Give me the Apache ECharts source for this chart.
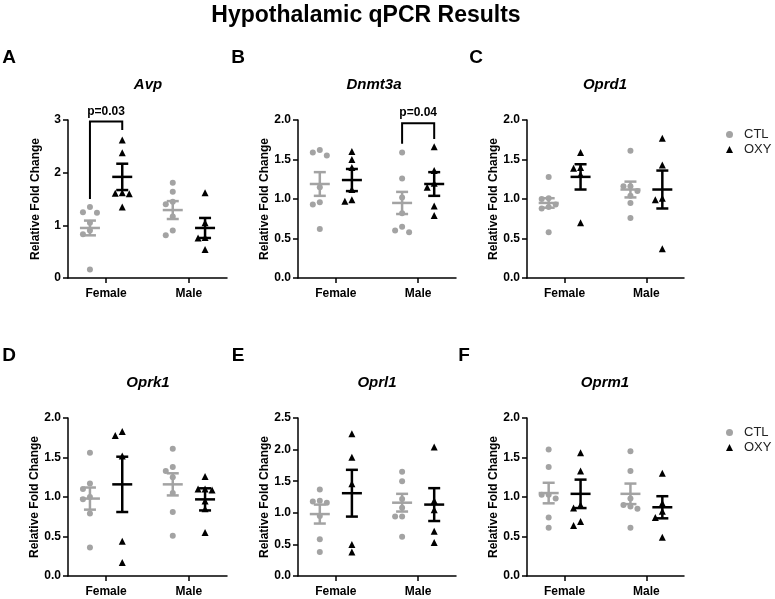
<!DOCTYPE html>
<html>
<head>
<meta charset="utf-8">
<title>Hypothalamic qPCR Results</title>
<script src="https://cdn.jsdelivr.net/npm/echarts@6/dist/echarts.min.js"></script>
<style>
  html, body { margin: 0; padding: 0; background: #fff; }
  #chart { width: 775px; height: 599px; }
</style>
</head>
<body>
<div id="chart"></div>
<script>
// one panel per gene (A-F)
const genes = ['Avp', 'Dnmt3a', 'Oprd1', 'Oprk1', 'Oprl1', 'Oprm1'];
const letters = ['A', 'B', 'C', 'D', 'E', 'F'];
const sexes = ['Female', 'Male'];
const yMax = [3, 2, 2, 2, 2.5, 2];
const yStep = [1, 0.5, 0.5, 0.5, 0.5, 0.5];

// individual animals (relative fold change), one list per gene
const ctlFemale = [
  [1.35, 1.25, 1.24, 1.05, 0.90, 0.83, 0.16],
  [1.62, 1.59, 1.55, 1.15, 0.96, 0.93, 0.62],
  [1.28, 1.01, 1.00, 0.93, 0.90, 0.88, 0.58],
  [1.56, 1.17, 1.10, 1.00, 0.97, 0.79, 0.36],
  [1.37, 1.19, 1.18, 1.16, 0.95, 0.58, 0.38],
  [1.60, 1.38, 1.03, 1.03, 0.98, 0.74, 0.61]
];
const oxyFemale = [
  [2.62, 2.38, 1.62, 1.61, 1.60, 1.35],
  [1.60, 1.50, 1.40, 1.12, 0.99, 0.97],
  [1.59, 1.40, 1.39, 1.31, 0.70],
  [1.83, 1.78, 1.52, 0.44, 0.17],
  [2.25, 1.88, 1.46, 0.50, 0.38],
  [1.56, 1.33, 0.90, 0.86, 0.69, 0.64]
];
const ctlMale = [
  [1.81, 1.64, 1.45, 1.40, 1.17, 0.90, 0.81],
  [1.59, 1.26, 1.02, 0.82, 0.65, 0.60, 0.58],
  [1.61, 1.16, 1.16, 1.10, 1.04, 0.95, 0.76],
  [1.61, 1.38, 1.33, 1.25, 1.05, 0.81, 0.51],
  [1.65, 1.50, 1.22, 1.08, 0.94, 0.94, 0.62],
  [1.58, 1.33, 0.98, 0.90, 0.88, 0.85, 0.61]
];
const oxyMale = [
  [1.62, 1.05, 0.77, 0.76, 0.54],
  [1.66, 1.36, 1.20, 1.15, 0.91, 0.79],
  [1.77, 1.43, 1.01, 0.99, 0.37],
  [1.26, 1.10, 1.10, 1.09, 0.95, 0.85, 0.55],
  [2.04, 1.19, 1.05, 0.71, 0.53],
  [1.30, 0.92, 0.82, 0.74, 0.49]
];

// mean and SEM per gene: [CTL Female, OXY Female, CTL Male, OXY Male]
const groupMean = [
  [0.95, 1.92, 1.29, 0.95],
  [1.19, 1.24, 0.95, 1.19],
  [0.95, 1.28, 1.12, 1.12],
  [0.98, 1.16, 1.16, 0.97],
  [0.98, 1.31, 1.16, 1.13],
  [1.05, 1.04, 1.04, 0.87]
];
const groupSem = [
  [0.14, 0.25, 0.17, 0.19],
  [0.15, 0.14, 0.14, 0.15],
  [0.06, 0.16, 0.10, 0.24],
  [0.14, 0.35, 0.14, 0.14],
  [0.15, 0.37, 0.14, 0.26],
  [0.13, 0.18, 0.13, 0.14]
];

// significance brackets (gene index, sex index, label, heights in fold change)
const brackets = [
  { gene: 0, sex: 0, text: 'p=0.03', top: 2.97, ctlEnd: 1.50, oxyEnd: 2.81 },
  { gene: 1, sex: 1, text: 'p=0.04', top: 1.96, ctlEnd: 1.70, oxyEnd: 1.76 }
];

const FONT = '"Liberation Sans", Arial, sans-serif';
const GREY = '#a3a3a3';
const BLACK = '#000';

// panel layout (pixels)
const panels = [
  { left: 68, top: 120, width: 159, letterX: 9, titleX: 148 },
  { left: 298, top: 120, width: 158, letterX: 238, titleX: 374 },
  { left: 527, top: 120, width: 157, letterX: 476, titleX: 605 },
  { left: 68, top: 418, width: 159, letterX: 9, titleX: 148 },
  { left: 298, top: 418, width: 158, letterX: 238, titleX: 377 },
  { left: 527, top: 418, width: 157, letterX: 464, titleX: 605 }
];
const PLOT_H = 158;
const X_MIN = 0.08, X_MAX = 3.92;
const SEX_X = [1, 3];
const GROUP_OFF = 0.39;

// simple beeswarm: spread points sideways when they would overlap
function swarm(values, center, yPxPerUnit, xPxPerUnit) {
  const step = 7 / xPxPerUnit;
  const placed = [];
  values.slice().sort((a, b) => b - a).forEach(v => {
    for (const k of [0, -1, 1, -2, 2, -3, 3]) {
      const ox = k * step;
      const free = placed.every(p => Math.hypot((p[0] - ox) * xPxPerUnit, (p[1] - v) * yPxPerUnit) >= 6.5);
      if (free) { placed.push([ox, v]); break; }
    }
  });
  return placed.map(p => [center + p[0], p[1]]);
}

function errorBar(color) {
  return function (params, api) {
    const x = api.value(0), m = api.value(1), s = api.value(2);
    const c = api.coord([x, m]);
    const hi = api.coord([x, m + s]);
    const lo = api.coord([x, m - s]);
    const st = { stroke: color, lineWidth: 2.5 };
    const seg = (x1, y1, x2, y2) => ({ type: 'line', shape: { x1, y1, x2, y2 }, style: st });
    return {
      type: 'group',
      children: [
        seg(c[0], hi[1], c[0], lo[1]),
        seg(c[0] - 10, c[1], c[0] + 10, c[1]),
        seg(c[0] - 6, hi[1], c[0] + 6, hi[1]),
        seg(c[0] - 6, lo[1], c[0] + 6, lo[1])
      ]
    };
  };
}

const grid = [], xAxis = [], yAxis = [], series = [], graphic = [];

graphic.push({
  type: 'text', x: 366, y: 16,
  style: { text: 'Hypothalamic qPCR Results', font: 'bold 23px ' + FONT, fill: BLACK, align: 'center', verticalAlign: 'middle' }
});

genes.forEach((gene, i) => {
  const p = panels[i];
  const yPx = PLOT_H / yMax[i];
  const xPx = p.width / (X_MAX - X_MIN);

  grid.push({ left: p.left, top: p.top, width: p.width, height: PLOT_H });

  xAxis.push({
    type: 'value', gridIndex: i, min: X_MIN, max: X_MAX,
    splitLine: { show: false },
    axisLine: { onZero: false, lineStyle: { color: BLACK, width: 1.5 } },
    axisTick: { customValues: SEX_X, length: 5, lineStyle: { color: BLACK, width: 1.5 } },
    axisLabel: {
      customValues: SEX_X, formatter: v => (v < 2 ? sexes[0] : sexes[1]),
      fontWeight: 'bold', fontSize: 12, color: BLACK, margin: 10, fontFamily: FONT
    }
  });

  yAxis.push({
    type: 'value', gridIndex: i, min: 0, max: yMax[i], interval: yStep[i],
    name: 'Relative Fold Change', nameLocation: 'middle', nameGap: 26,
    nameTextStyle: { fontWeight: 'bold', fontSize: 12, color: BLACK, fontFamily: FONT },
    splitLine: { show: false },
    axisLine: { show: true, onZero: false, lineStyle: { color: BLACK, width: 1.5 } },
    axisTick: { show: true, length: 5, lineStyle: { color: BLACK, width: 1.5 } },
    axisLabel: {
      formatter: v => (yStep[i] === 1 ? String(v) : v.toFixed(1)),
      fontWeight: 'bold', fontSize: 12, color: BLACK, margin: 7, fontFamily: FONT
    }
  });

  const ctlPts = swarm(ctlFemale[i], SEX_X[0] - GROUP_OFF, yPx, xPx)
    .concat(swarm(ctlMale[i], SEX_X[1] - GROUP_OFF, yPx, xPx));
  const oxyPts = swarm(oxyFemale[i], SEX_X[0] + GROUP_OFF, yPx, xPx)
    .concat(swarm(oxyMale[i], SEX_X[1] + GROUP_OFF, yPx, xPx));

  series.push({
    name: 'CTL', type: 'scatter', xAxisIndex: i, yAxisIndex: i,
    symbol: 'circle', symbolSize: 6, itemStyle: { color: GREY, opacity: 1 },
    data: ctlPts, z: 2
  });
  series.push({
    name: 'OXY', type: 'scatter', xAxisIndex: i, yAxisIndex: i,
    symbol: 'triangle', symbolSize: 7, itemStyle: { color: BLACK, opacity: 1 },
    data: oxyPts, z: 2
  });

  const m = groupMean[i], s = groupSem[i];
  series.push({
    name: 'CTL mean', type: 'custom', xAxisIndex: i, yAxisIndex: i, z: 3,
    renderItem: errorBar(GREY),
    data: [[SEX_X[0] - GROUP_OFF, m[0], s[0]], [SEX_X[1] - GROUP_OFF, m[2], s[2]]]
  });
  series.push({
    name: 'OXY mean', type: 'custom', xAxisIndex: i, yAxisIndex: i, z: 3,
    renderItem: errorBar(BLACK),
    data: [[SEX_X[0] + GROUP_OFF, m[1], s[1]], [SEX_X[1] + GROUP_OFF, m[3], s[3]]]
  });

  brackets.filter(b => b.gene === i).forEach(b => {
    const cx = SEX_X[b.sex];
    series.push({
      name: 'bracket', type: 'custom', xAxisIndex: i, yAxisIndex: i, z: 4, clip: false,
      data: [[cx - GROUP_OFF, cx + GROUP_OFF, b.top, b.ctlEnd, b.oxyEnd]],
      renderItem: (params, api) => {
        const a = api.coord([api.value(0), api.value(3)]);
        const t1 = api.coord([api.value(0), api.value(2)]);
        const t2 = api.coord([api.value(1), api.value(2)]);
        const d = api.coord([api.value(1), api.value(4)]);
        return {
          type: 'group',
          children: [
            { type: 'polyline', shape: { points: [a, t1, t2, d] }, style: { stroke: BLACK, fill: null, lineWidth: 2 } },
            { type: 'text', x: (t1[0] + t2[0]) / 2, y: t1[1] - 4,
              style: { text: b.text, font: 'bold 12px ' + FONT, fill: BLACK, align: 'center', verticalAlign: 'bottom' } }
          ]
        };
      }
    });
  });

  graphic.push({
    type: 'text', x: p.letterX, y: p.top - 62,
    style: { text: letters[i], font: 'bold 19px ' + FONT, fill: BLACK, align: 'center', verticalAlign: 'middle' }
  });
  graphic.push({
    type: 'text', x: p.titleX, y: p.top - 35,
    style: { text: gene, font: 'italic bold 15px ' + FONT, fill: BLACK, align: 'center', verticalAlign: 'middle' }
  });
});

const legendBase = {
  data: [{ name: 'CTL', icon: 'circle' }, { name: 'OXY', icon: 'triangle' }],
  orient: 'vertical', left: 721,
  itemWidth: 7, itemHeight: 7, itemGap: 2, selectedMode: false,
  textStyle: { fontSize: 13, color: '#222', fontFamily: FONT, padding: [0, 0, 0, 6] }
};

const chart = echarts.init(document.getElementById('chart'));
chart.setOption({
  backgroundColor: '#fff',
  animation: false,
  textStyle: { fontFamily: FONT },
  grid: grid,
  xAxis: xAxis,
  yAxis: yAxis,
  legend: [
    Object.assign({}, legendBase, { top: 123 }),
    Object.assign({}, legendBase, { top: 421 })
  ],
  graphic: graphic,
  series: series
});
</script>
</body>
</html>
